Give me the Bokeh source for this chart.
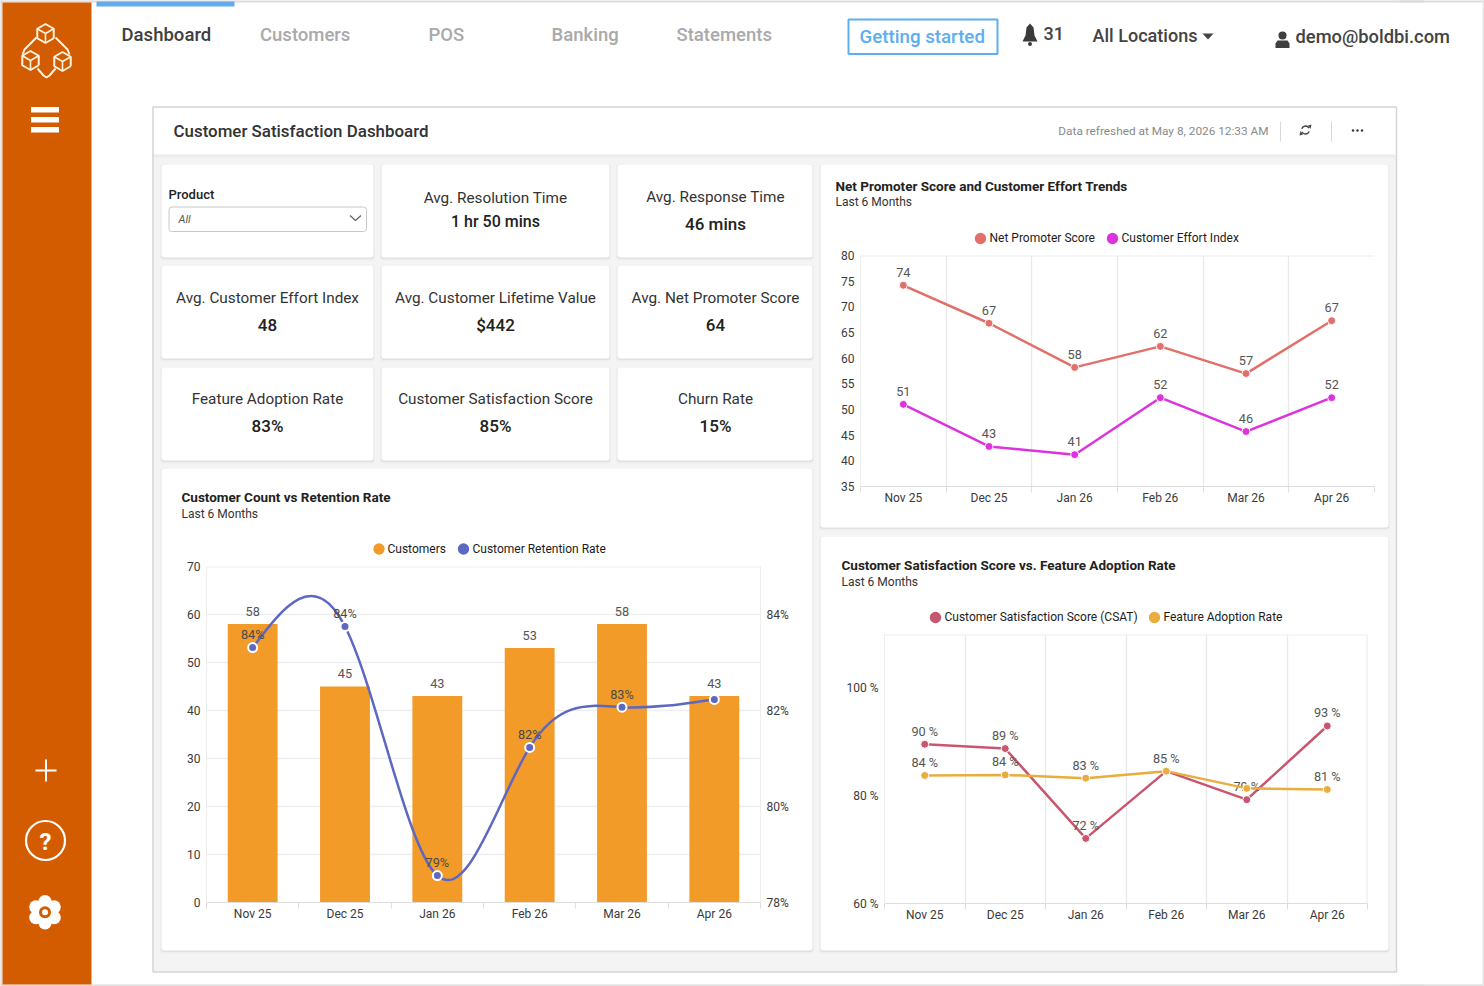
import numpy as np
from bokeh.embed import file_html
from bokeh.resources import INLINE
from bokeh.core.properties import value
from bokeh.models import (Column, FixedTicker, LinearAxis, PrintfTickFormatter, Range1d,
                          ColumnDataSource, Span)
from bokeh.plotting import figure

# ---------- data ----------
months = ["Nov 25", "Dec 25", "Jan 26", "Feb 26", "Mar 26", "Apr 26"]
customers = [58, 45, 43, 53, 58, 43]
retention = [83.31, 83.75, 78.56, 81.23, 82.07, 82.23]
retention_labels = ["84%", "84%", "79%", "82%", "83%", ""]
customer_ticks = [0, 10, 20, 30, 40, 50, 60, 70]
retention_ticks = [78, 80, 82, 84]

nps = [74.2, 66.8, 58.2, 62.3, 57.0, 67.3]
effort = [51.0, 42.8, 41.2, 52.3, 45.7, 52.3]
trend_ticks = [35, 40, 45, 50, 55, 60, 65, 70, 75, 80]

csat = [89.6, 88.8, 72.1, 84.6, 79.3, 93.0]
adoption = [83.8, 83.9, 83.3, 84.6, 81.4, 81.2]
csat_labels = ["90 %", "89 %", "72 %", "85 %", "79 %", "93 %"]
adoption_labels = ["84 %", "84 %", "83 %", "", "", "81 %"]
percent_ticks = [60, 80, 100]

kpi_titles = ["Avg. Resolution Time", "Avg. Response Time", "Avg. Customer Effort Index",
              "Avg. Customer Lifetime Value", "Avg. Net Promoter Score",
              "Feature Adoption Rate", "Customer Satisfaction Score", "Churn Rate"]
kpi_values = ["1 hr 50 mins", "46 mins", "48", "$442", "64", "83%", "85%", "15%"]
nav_items = ["Dashboard", "Customers", "POS", "Banking", "Statements"]

FONT = value("Roboto")
ORANGE = "#d35c00"
BAR = "#f29b29"
RATE = "#5c68c2"
NPS_C = "#e2706a"
CEI_C = "#dd33dd"
CSAT_C = "#c9566f"
FAR_C = "#e9ad3e"
GRID = "#eeeeee"
VGRID = "#e9e9e9"
AXIS = "#dddddd"
SIDE_L = 60   # horizontal side panels reserved by each figure
SIDE_R = 50


def backdrop(x0, width, fill):
    f = figure(frame_width=width, frame_height=986, x_range=Range1d(x0, x0 + width),
               y_range=Range1d(987, 1), x_axis_type=None, y_axis_type=None,
               toolbar_location=None, output_backend="svg", min_border=0, min_border_left=0,
               min_border_right=0, min_border_top=0, min_border_bottom=0,
               outline_line_color=None, background_fill_color=fill, border_fill_color=None)
    f.grid.visible = False
    f.styles = {"position": "absolute", "left": f"{x0 - SIDE_L - 1}px", "top": "0px", "flex": "none"}
    return f


# ---------- background page ----------
bg = backdrop(1, 1484, "white")
bg_right = backdrop(1200, 350, None)


def box(l, t, r, b, fill, line=None, lw=1, radius=0, alpha=1.0, fig=None):
    (fig or bg).quad(left=[l], right=[r], top=[t], bottom=[b], fill_color=fill, fill_alpha=alpha,
                     line_color=line, line_width=lw, border_radius=radius)


def txt(x, y, s, size, color="#333333", align="left", style="normal", font=FONT, fig=None):
    (fig or bg).text(x=[x], y=[y], text=[s], text_font=font, text_font_size=f"{size}px",
                     text_color=color, text_align=align, text_baseline="middle",
                     text_font_style=style)


def card(l, t, r, b):
    box(l - 1.5, t, r + 1.5, b + 3, "#000000", alpha=0.025, radius=3)
    box(l - 0.5, t, r + 0.5, b + 1.5, "#000000", alpha=0.05, radius=3)
    box(l, t, r, b, "white", radius=3)


# page edges
box(0, 0, 1486, 3, "#dcdcdc")
box(0, 985, 1486, 988, "#dcdcdc")
box(0, 0, 3, 988, "#dcdcdc")
box(1400, 0, 1490, 3, "#dcdcdc", fig=bg_right)
box(1400, 985, 1490, 988, "#dcdcdc", fig=bg_right)
box(1483, 0, 1490, 988, "#e6e6e6", fig=bg_right)

# sidebar
box(3, 3, 92, 985, ORANGE)
for t, b in [(107.5, 113), (117.5, 123), (127.5, 133)]:
    box(31.5, t, 59.5, b, "white")


def cube(cx, cy, r):
    a = np.deg2rad(np.arange(30, 391, 60))
    xs, ys = cx + r * np.cos(a), cy + r * np.sin(a)
    bg.line(xs, ys, line_color="#fff3e0", line_width=2)
    for i in (1, 3, 5):
        bg.line([cx, xs[i]], [cy, ys[i]], line_color="#fff3e0", line_width=1.6)


cube(46, 34, 9.5)
cube(31, 61, 9.5)
cube(63, 62, 9.5)
for xs, ys in [([37, 25, 23], [38, 50, 55]), ([38, 44, 47, 50, 56], [69, 76, 78, 76, 69]),
               ([56, 68, 70], [38, 50, 55])]:
    bg.line(xs, ys, line_color="#fff3e0", line_width=2)

bg.line([36, 57], [771, 771], line_color="white", line_width=2)
bg.line([46.5, 46.5], [760, 782], line_color="white", line_width=2)
bg.circle(x=[46], y=[841], radius=19.5, fill_color=None, line_color="white", line_width=2.2)
txt(46, 842, "?", 24, "white", "center", "bold")
petals = np.deg2rad(np.arange(0, 360, 60) + 30)
bg.circle(x=45.5 + 10.5 * np.cos(petals), y=912.7 + 10.5 * np.sin(petals), radius=6.7,
          fill_color="white", line_color=None)
bg.circle(x=[45.5], y=[912.7], radius=9, fill_color="white", line_color=None)
bg.circle(x=[45.5], y=[912.7], radius=6, fill_color=ORANGE, line_color=None)
bg.circle(x=[45.5], y=[912.7], radius=3, fill_color="white", line_color=None)

# top navigation
box(97, 2, 235, 7, "#66aaee")
for (x, s) in zip([122, 260.5, 429, 552, 677], nav_items):
    txt(x, 35.5, s, 18.5, "#3f3f3f" if s == "Dashboard" else "#aaaaaa", font=value("Roboto Medium"))
box(849, 20, 998, 54.5, "white", "#5eaef0", 2)
txt(860, 37.5, "Getting started", 18.7, "#5eaef0", font=value("Roboto Medium"))
# bell
bg.patch([1024, 1026, 1027, 1030.5, 1034, 1035, 1037, 1038, 1023],
         [40, 36, 28, 24, 28, 36, 40, 42, 42], fill_color="#3a3a3a", line_color=None)
bg.circle(x=[1030.5], y=[44.5], radius=2, fill_color="#3a3a3a", line_color=None)
txt(1044, 33.5, "31", 18, "#444444", font=value("Roboto Medium"))
txt(1093, 35.5, "All Locations", 18, "#444444", font=value("Roboto Medium"))
bg.patch([1203, 1214, 1208.5], [34, 34, 40], fill_color="#444444", line_color=None)
bg.circle(x=[1283], y=[36], radius=4, fill_color="#3f3f3f", line_color=None)
bg.patch([1276, 1278, 1288, 1290, 1290, 1276], [44, 41, 41, 44, 48.5, 48.5],
         fill_color="#3f3f3f", line_color=None)
txt(1296, 37, "demo@boldbi.com", 18.3, "#444444", font=value("Roboto Medium"), fig=bg_right)

# dashboard frame and header
box(153.5, 107.5, 1397, 972.5, "#f4f4f4", "#d5d5d5", 1.5)
box(154.5, 108.5, 1396, 155, "white")
box(154.5, 155, 1396, 158, "#ececec")
txt(174, 131, "Customer Satisfaction Dashboard", 16.9, "#333333", font=value("Roboto Medium"))
txt(1269, 131.5, "Data refreshed at May 8, 2026 12:33 AM", 11.8, "#8a8a8a", "right")
bg.line([1281, 1281], [122, 142], line_color="#d8d8d8", line_width=1)
bg.line([1332, 1332], [122, 142], line_color="#d8d8d8", line_width=1)
bg.arc(x=[1306], y=[130.5], radius=4, start_angle=0.5, end_angle=2.8, line_color="#444444", line_width=1.4)
bg.arc(x=[1306], y=[130.5], radius=4, start_angle=3.6, end_angle=5.9, line_color="#444444", line_width=1.4)
bg.patch([1308.5, 1312, 1311], [126, 125, 129.5], fill_color="#444444", line_color=None)
bg.patch([1303.5, 1300, 1301], [135, 136, 131.5], fill_color="#444444", line_color=None)
bg.circle(x=[1353.5, 1358, 1362.5], y=[131, 131, 131], radius=1.2, fill_color="#333333", line_color=None)

# cards
rows = [(165, 258), (266, 359), (368, 461)]
cols = [(162, 374), (382, 610), (618, 813)]
for t, b in rows:
    for l, r in cols:
        card(l, t, r, b)
card(162, 469, 813, 951)
card(821, 165, 1389, 528)
card(821, 537, 1389, 951)

# filter
txt(169, 194.5, "Product", 13, "#222222", font=value("Roboto Medium"))
box(169.5, 207.5, 367, 232, "white", "#c8c8c8", 1, 3)
txt(179, 219.5, "All", 11, "#555555", style="italic")
bg.line([350.5, 356, 361.5], [216, 221, 216], line_color="#666666", line_width=1.3)

# KPIs
kpi_pos = [(496, 198.5, 222), (716, 197, 224), (268, 298, 325), (496, 298, 325),
           (716, 298, 325), (268, 399.5, 426.5), (496, 399.5, 426.5), (716, 399.5, 426.5)]
for (x, y1, y2), title, val in zip(kpi_pos, kpi_titles, kpi_values):
    txt(x, y1, title, 15.3, "#333333", "center")
    txt(x, y2, val, 16 if len(val) > 8 else 17, "#222222", "center", font=value("Roboto Medium"))

# card headings and legends
for x, y, t in [(182, 497, "Customer Count vs Retention Rate"),
                (836, 186, "Net Promoter Score and Customer Effort Trends"),
                (842, 565.5, "Customer Satisfaction Score vs. Feature Adoption Rate")]:
    txt(x, y, t, 13.5, "#222222", style="bold")
    txt(x, y + 17 if y != 186 else y + 16.5, "Last 6 Months", 12, "#333333")

legend_entries = [
    (379.5, 549.5, 388, "Customers", BAR), (464, 549.5, 473, "Customer Retention Rate", RATE),
    (981, 239, 990, "Net Promoter Score", NPS_C), (1113, 239, 1122, "Customer Effort Index", CEI_C),
    (936, 618, 945, "Customer Satisfaction Score (CSAT)", CSAT_C),
    (1155, 618, 1164, "Feature Adoption Rate", FAR_C)]
for cx, cy, tx, name, col in legend_entries:
    bg.circle(x=[cx], y=[cy], radius=5.7, fill_color=col, line_color=None)
    txt(tx, cy - 0.5, name, 12, "#1c1c1c")

# ---------- charts ----------
centers = [i + 0.5 for i in range(len(months))]
edges = list(range(len(months) + 1))


def chart(frame, y_range, pad_top=12, pad_bottom=34):
    l, t, r, b = frame
    p = figure(frame_width=r - l, frame_height=b - t, x_range=Range1d(0, len(months)), y_range=y_range,
               toolbar_location=None, output_backend="svg", min_border_left=SIDE_L,
               min_border_right=SIDE_R, min_border_top=pad_top, min_border_bottom=pad_bottom,
               background_fill_color=None, border_fill_color=None, outline_line_color=None)
    p.styles = {"position": "absolute", "left": f"{l - SIDE_L}px", "top": f"{t - pad_top}px"}
    ax = p.xaxis[0]
    ax.ticker = FixedTicker(ticks=centers, minor_ticks=edges)
    ax.major_label_overrides = dict(zip(centers, months))
    ax.major_tick_line_color = None
    ax.major_tick_out = 0
    ax.major_tick_in = 0
    ax.minor_tick_out = 6
    ax.minor_tick_in = 0
    ax.minor_tick_line_color = AXIS
    ax.axis_line_color = AXIS
    ax.major_label_standoff = -2
    ay = p.yaxis[0]
    ay.major_tick_line_color = None
    ay.major_tick_out = 0
    ay.major_tick_in = 0
    ay.minor_tick_line_color = None
    ay.axis_line_color = GRID
    ay.major_label_standoff = 6
    for a in (ax, ay):
        a.major_label_text_font = "Roboto"
        a.major_label_text_font_size = "12px"
        a.major_label_text_color = "#3a3a3a"
    p.add_layout(Span(location=y_range.end, dimension="width", line_color=GRID, line_width=2))
    return p


def value_text(p, xs, ys, labels, offset, color="#555555", **kw):
    keep = [i for i, s in enumerate(labels) if s]
    src = ColumnDataSource(dict(x=[xs[i] for i in keep], y=[ys[i] for i in keep],
                                t=[labels[i] for i in keep]))
    p.text("x", "y", text="t", source=src, text_font=FONT, text_font_size="12.7px",
           text_color=color, text_align="center", text_baseline="middle", y_offset=-offset, **kw)


def spline_beziers(ys):
    y = np.asarray(ys, float)
    n = len(y)
    A = np.zeros((n, n))
    d = np.zeros(n)
    A[0, 0] = A[-1, -1] = 1
    for i in range(1, n - 1):
        A[i, i - 1:i + 2] = [1, 4, 1]
        d[i] = 6 * (y[i + 1] - 2 * y[i] + y[i - 1])
    m = np.linalg.solve(A, d)
    s = y[1:] - y[:-1]
    d0 = s - (2 * m[:-1] + m[1:]) / 6
    d1 = s + (m[:-1] + 2 * m[1:]) / 6
    return y[:-1], y[1:], y[:-1] + d0 / 3, y[1:] - d1 / 3


# bar + spline
p1 = chart((206, 566, 760, 902), Range1d(0, 70))
p1.extra_y_ranges = {"rate": Range1d(78, 85)}
p1.yaxis[0].ticker = FixedTicker(ticks=customer_ticks)
p1.xgrid.visible = False
p1.ygrid.ticker = FixedTicker(ticks=customer_ticks)
p1.ygrid.grid_line_color = GRID
p1.ygrid.grid_line_width = 1.5
right = LinearAxis(y_range_name="rate", ticker=FixedTicker(ticks=retention_ticks),
                   formatter=PrintfTickFormatter(format="%d%%"), major_tick_out=0, major_tick_in=0,
                   minor_tick_out=0, minor_tick_in=0, major_tick_line_color=None,
                   axis_line_color=GRID, major_label_standoff=6, major_label_text_font="Roboto",
                   major_label_text_font_size="12px", major_label_text_color="#3a3a3a")
p1.add_layout(right, "right")
p1.vbar(x=centers, top=customers, width=0.54, fill_color=BAR, line_color=None)
value_text(p1, centers, customers, [str(v) for v in customers], 13)
y0, y1, c0, c1 = spline_beziers(retention)
p1.bezier(x0=centers[:-1], y0=y0, x1=centers[1:], y1=y1,
          cx0=[c + 1 / 3 for c in centers[:-1]], cy0=c0,
          cx1=[c - 1 / 3 for c in centers[1:]], cy1=c1,
          line_color=RATE, line_width=2.5, y_range_name="rate")
p1.scatter(centers, retention, size=9, fill_color=RATE, line_color="white", line_width=2,
           y_range_name="rate")
value_text(p1, centers, retention, retention_labels, 13, "#4a4a4a", y_range_name="rate")

# NPS / effort
p2 = chart((860, 255, 1374, 486), Range1d(35, 80))
p2.yaxis[0].ticker = FixedTicker(ticks=trend_ticks)
p2.xgrid.ticker = FixedTicker(ticks=edges[:-1])
p2.xgrid.grid_line_color = VGRID
p2.xgrid.grid_line_width = 1.3
p2.ygrid.visible = False
for ser, col in [(nps, NPS_C), (effort, CEI_C)]:
    p2.line(centers, ser, line_color=col, line_width=2.5)
    p2.scatter(centers, ser, size=8, fill_color=col, line_color="white", line_width=1)
    value_text(p2, centers, ser, [str(round(v)) for v in ser], 13)

# CSAT / adoption
p3 = chart((884, 634, 1367, 903), Range1d(60, 110))
p3.yaxis[0].ticker = FixedTicker(ticks=percent_ticks)
p3.yaxis[0].formatter = PrintfTickFormatter(format="%d %%")
p3.xgrid.ticker = FixedTicker(ticks=edges)
p3.xgrid.grid_line_color = VGRID
p3.xgrid.grid_line_width = 1.3
p3.ygrid.visible = False
p3.add_layout(Span(location=edges[-1], dimension="height", line_color=VGRID, line_width=2))
for ser, col, labs in [(csat, CSAT_C, csat_labels), (adoption, FAR_C, adoption_labels)]:
    p3.line(centers, ser, line_color=col, line_width=2.5)
    p3.scatter(centers, ser, size=8, fill_color=col, line_color="white", line_width=1)
    value_text(p3, centers, ser, labs, 13)

root = Column(children=[bg, bg_right, p1, p2, p3], width=1484, height=986,
              styles={"position": "absolute", "left": "0px", "top": "0px", "overflow": "hidden"})

open("out.html", "w").write(file_html(root, INLINE))
